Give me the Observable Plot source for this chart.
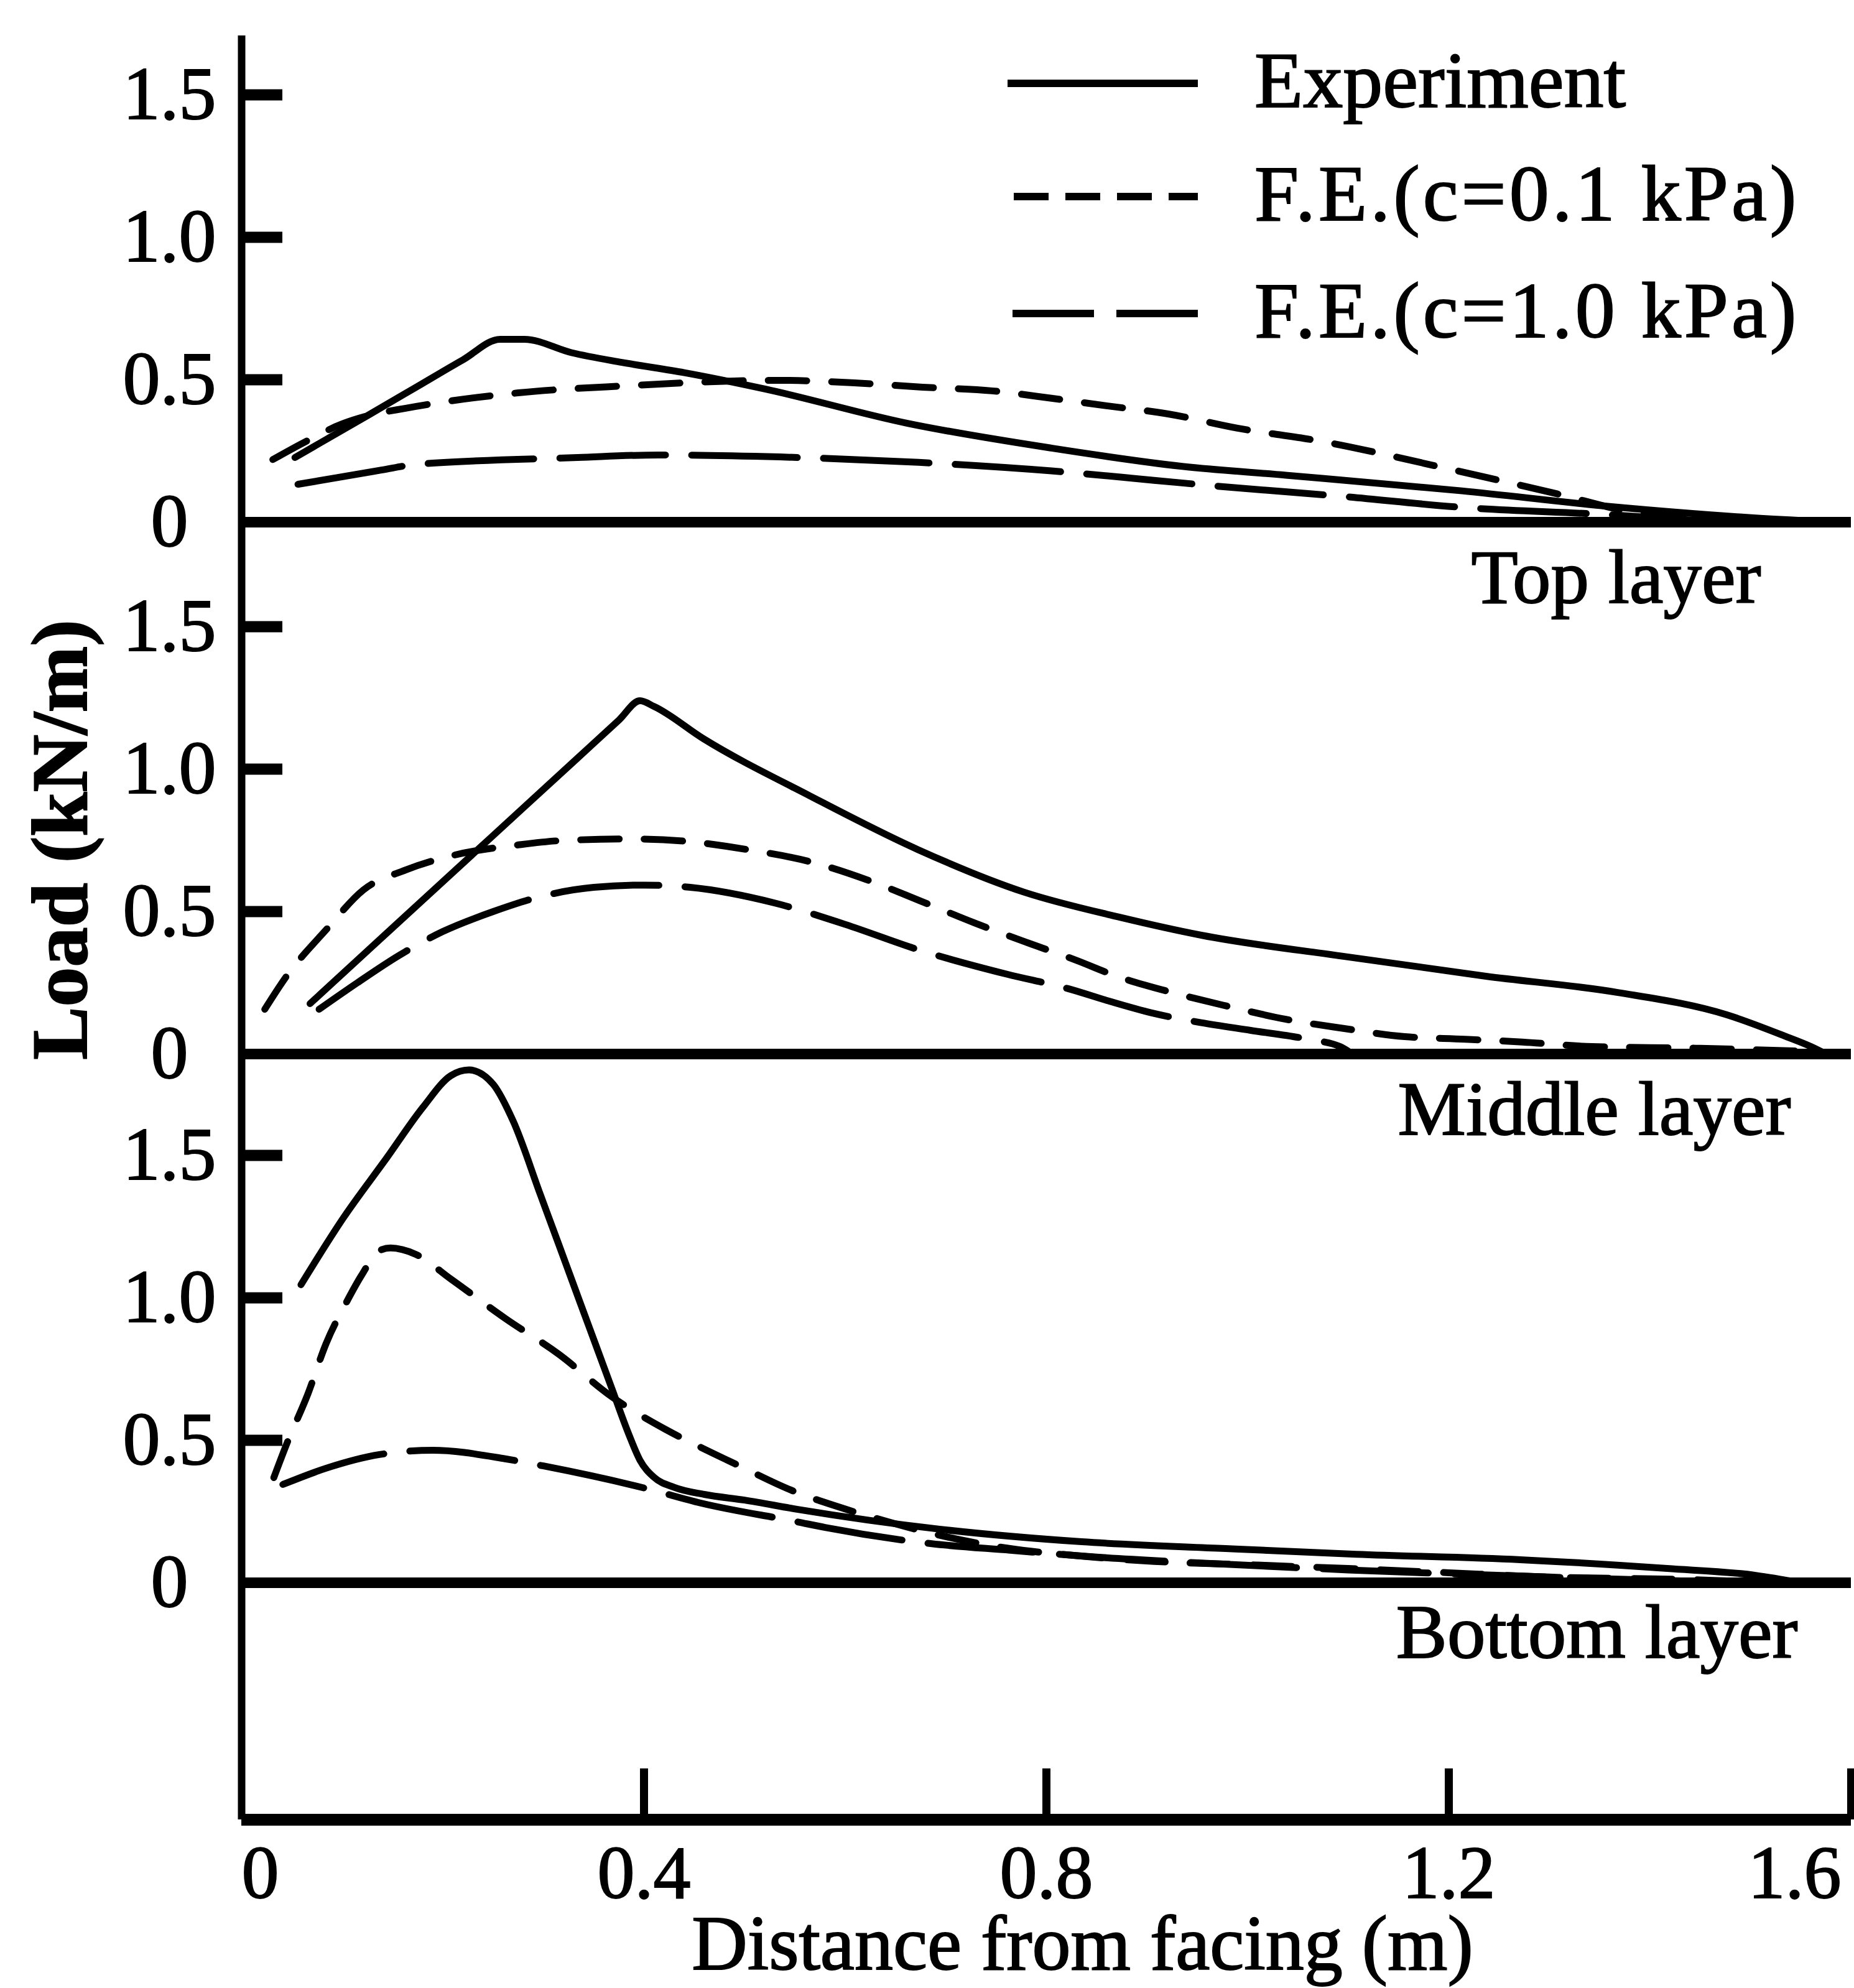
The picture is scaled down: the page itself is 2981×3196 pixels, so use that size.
<!DOCTYPE html>
<html>
<head>
<meta charset="utf-8">
<script src="https://cdn.jsdelivr.net/npm/d3@7"></script>
<script src="https://cdn.jsdelivr.net/npm/@observablehq/plot@0.6"></script>
<style>
  html, body { margin: 0; padding: 0; background: #fff; }
  #chart { position: relative; width: 2981px; height: 3196px; overflow: hidden; background: #fff;
           font-family: "Liberation Serif", "Times New Roman", serif; }
  #chart svg { display: block; overflow: visible; }
  #chart text { stroke: #000; stroke-width: 2px; }
</style>
</head>
<body>
<div id="chart"></div>
<script>
// ---------------- DATA ----------------
const layers = ["Top layer", "Middle layer", "Bottom layer"];
const seriesNames = ["Experiment", "F.E.(c=0.1 kPa)", "F.E.(c=1.0 kPa)"];
const xTickValues = [0, 0.4, 0.8, 1.2, 1.6];
const yTickValues = [0, 0.5, 1.0, 1.5];
const xTitle = "Distance from facing (m)";
const yTitle = "Load (kN/m)";

// Top layer
const topExpX  = [0.053, 0.127, 0.174, 0.22, 0.257, 0.281, 0.328, 0.378, 0.44, 0.521, 0.662, 0.805, 0.935, 1.038, 1.213, 1.36, 1.505, 1.587];
const topExpY  = [0.227, 0.378, 0.475, 0.57, 0.642, 0.642, 0.595, 0.561, 0.525, 0.467, 0.347, 0.26, 0.196, 0.165, 0.11, 0.055, 0.015, 0.0];
const topFE01X = [0.031, 0.062, 0.10, 0.127, 0.163, 0.275, 0.378, 0.535, 0.609, 0.677, 0.746, 0.805, 0.861, 0.921, 0.99, 1.073, 1.19, 1.307, 1.383, 1.45, 1.55];
const topFE01Y = [0.22, 0.28, 0.345, 0.375, 0.40, 0.454, 0.478, 0.498, 0.489, 0.474, 0.461, 0.435, 0.408, 0.38, 0.33, 0.284, 0.195, 0.10, 0.035, 0.01, 0.0];
const topFE10X = [0.056, 0.139, 0.174, 0.334, 0.414, 0.535, 0.673, 0.805, 0.907, 0.968, 1.096, 1.213, 1.36, 1.45];
const topFE10Y = [0.133, 0.183, 0.203, 0.227, 0.236, 0.229, 0.21, 0.18, 0.147, 0.127, 0.09, 0.052, 0.026, 0.005];

// Middle layer
const midExpX  = [0.068, 0.15, 0.25, 0.33, 0.375, 0.396, 0.41, 0.459, 0.565, 0.672, 0.778, 0.873, 0.954, 1.095, 1.237, 1.368, 1.476, 1.534, 1.56, 1.575];
const midExpY  = [0.177, 0.443, 0.767, 1.026, 1.172, 1.24, 1.22, 1.107, 0.906, 0.718, 0.568, 0.48, 0.417, 0.343, 0.273, 0.216, 0.138, 0.063, 0.026, 0.0];
const midFE01X = [0.023, 0.044, 0.085, 0.121, 0.163, 0.21, 0.275, 0.317, 0.388, 0.441, 0.502, 0.565, 0.622, 0.675, 0.728, 0.785, 0.829, 0.87, 0.925, 0.975, 1.038, 1.095, 1.156, 1.216, 1.273, 1.337, 1.45, 1.55];
const midFE01Y = [0.157, 0.27, 0.44, 0.576, 0.646, 0.697, 0.734, 0.749, 0.755, 0.747, 0.718, 0.675, 0.611, 0.537, 0.461, 0.386, 0.33, 0.273, 0.216, 0.172, 0.122, 0.09, 0.061, 0.052, 0.042, 0.027, 0.02, 0.01];
const midFE10X = [0.077, 0.115, 0.156, 0.20, 0.25, 0.30, 0.35, 0.40, 0.446, 0.53, 0.6, 0.672, 0.761, 0.821, 0.863, 0.904, 0.954, 1.003, 1.06, 1.092, 1.10];
const midFE10Y = [0.157, 0.25, 0.345, 0.43, 0.50, 0.555, 0.585, 0.593, 0.585, 0.53, 0.455, 0.367, 0.28, 0.23, 0.185, 0.145, 0.11, 0.083, 0.052, 0.026, 0.01];

// Bottom layer
const botExpX  = [0.059, 0.101, 0.144, 0.18, 0.208, 0.226, 0.25, 0.27, 0.297, 0.315, 0.336, 0.354, 0.368, 0.385, 0.396, 0.41, 0.43, 0.46, 0.5, 0.552, 0.694, 0.835, 0.978, 1.108, 1.271, 1.417, 1.505, 1.55];
const botExpY  = [1.046, 1.28, 1.49, 1.668, 1.78, 1.80, 1.75, 1.62, 1.362, 1.19, 0.988, 0.816, 0.682, 0.52, 0.43, 0.37, 0.335, 0.31, 0.29, 0.258, 0.188, 0.144, 0.12, 0.10, 0.081, 0.05, 0.026, 0.0];
const botFE01X = [0.032, 0.045, 0.066, 0.084, 0.105, 0.119, 0.137, 0.148, 0.173, 0.208, 0.262, 0.315, 0.368, 0.421, 0.456, 0.492, 0.549, 0.59, 0.63, 0.69, 0.764, 0.83, 0.907, 1.01, 1.1, 1.2, 1.3, 1.45, 1.52];
const botFE01Y = [0.369, 0.489, 0.664, 0.84, 0.99, 1.078, 1.166, 1.175, 1.153, 1.066, 0.928, 0.803, 0.653, 0.539, 0.476, 0.415, 0.321, 0.27, 0.227, 0.17, 0.12, 0.095, 0.075, 0.062, 0.05, 0.035, 0.02, 0.01, 0.0];
const botFE10X = [0.041, 0.084, 0.137, 0.19, 0.262, 0.30, 0.403, 0.456, 0.552, 0.58, 0.686, 0.764, 0.85, 0.95, 1.1, 1.3, 1.5];
const botFE10Y = [0.345, 0.402, 0.45, 0.465, 0.435, 0.41, 0.33, 0.28, 0.214, 0.194, 0.137, 0.114, 0.09, 0.07, 0.045, 0.02, 0.0];

// ---------------- BUILD ROWS ----------------
function rows(xs, ys) { return xs.map((x, i) => ({x, y: ys[i]})); }
const panelSeries = [
  [rows(topExpX, topExpY), rows(topFE01X, topFE01Y), rows(topFE10X, topFE10Y)],
  [rows(midExpX, midExpY), rows(midFE01X, midFE01Y), rows(midFE10X, midFE10Y)],
  [rows(botExpX, botExpY), rows(botFE01X, botFE01Y), rows(botFE10X, botFE10Y)]
];

// ---------------- LAYOUT / STYLE ----------------
const WIDTH = 2981, HEIGHT = 3196, MARGIN_LEFT = 388, MARGIN_RIGHT = 5, PX_PER_UNIT = 458;
const X_DOMAIN = [0, 1.6];
const FRAME_W = WIDTH - MARGIN_LEFT - MARGIN_RIGHT;
const Y_TICK_LEN_PX = 66;
const yTickLenData = Y_TICK_LEN_PX * (X_DOMAIN[1] - X_DOMAIN[0]) / FRAME_W;
const FONT = "Liberation Serif, Times New Roman, serif";
const fmt = d => d === 0 ? "0" : d.toFixed(1);
const panelLayout = [
  {height: 839,  marginTop: 57, marginBottom: 0,   zeroAt: 839, labelDx: -145, labelDy: 129},
  {height: 855,  marginTop: 0,  marginBottom: 0,   zeroAt: 855, labelDx: -97,  labelDy: 129},
  {height: 1502, marginTop: 0,  marginBottom: 271, zeroAt: 850, labelDx: -86,  labelDy: 120}
];
const seriesDash = [null, "62,40", "170,42"];
const curveWidth = 11;
const yTickMarkValues = yTickValues.filter(t => t > 0);

const chart = document.getElementById("chart");

panelLayout.forEach((L, i) => {
  const yDomain = [-(L.height - L.marginBottom - L.zeroAt) / PX_PER_UNIT, (L.zeroAt - L.marginTop) / PX_PER_UNIT];
  const marks = [
    Plot.ruleX([X_DOMAIN[0]], {stroke: "black", strokeWidth: 12}),
    Plot.ruleY([0], {stroke: "black", strokeWidth: 17}),
    Plot.axisY(yTickValues, {tickSize: 0, tickPadding: 116, textAnchor: "middle", tickFormat: fmt, fontSize: 120, label: null}),
    ...panelSeries[i].map((data, s) => Plot.line(data, {
      x: "x", y: "y", curve: "monotone-x", stroke: "black", strokeWidth: curveWidth,
      strokeDasharray: seriesDash[s] || undefined
    })),
    Plot.text([layers[i]], {text: d => d, y: 0, frameAnchor: "right", textAnchor: "end", lineAnchor: "bottom",
      dx: L.labelDx, dy: L.labelDy, fontSize: 123})
  ];
  if (i === 1) {
    marks.push(Plot.text([yTitle], {text: d => d, frameAnchor: "left", textAnchor: "middle", lineAnchor: "middle",
      rotate: -90, dx: -290, dy: 83, fontSize: 128, fontWeight: "bold"}));
  }
  if (i === 2) {
    marks.push(
      Plot.ruleY([yDomain[0]], {stroke: "black", strokeWidth: 19}),
      Plot.axisX(xTickValues.filter(t => t > 0), {tickSize: 82, dy: -82, strokeWidth: 13, fill: "none", label: null}),
      Plot.axisX([xTickValues[0]], {tickSize: 0, tickPadding: 40, textAnchor: "start", tickFormat: fmt, fontSize: 120, label: null}),
      Plot.axisX(xTickValues.slice(1, -1), {tickSize: 0, tickPadding: 40, textAnchor: "middle", tickFormat: fmt, fontSize: 120, label: null}),
      Plot.axisX([xTickValues[xTickValues.length - 1]], {tickSize: 0, tickPadding: 40, textAnchor: "end", dx: -16, tickFormat: fmt, fontSize: 120, label: null}),
      Plot.text([xTitle], {text: d => d, frameAnchor: "bottom", textAnchor: "middle", lineAnchor: "bottom", dx: 58, dy: 240, fontSize: 124})
    );
  }
  // inward y ticks (0.5, 1.0, 1.5) on the left axis
  marks.push(Plot.ruleY(yTickMarkValues, {y: d => d, x1: X_DOMAIN[0], x2: X_DOMAIN[0] + yTickLenData,
    stroke: "black", strokeWidth: 18}));

  const svg = Plot.plot({
    width: WIDTH, height: L.height,
    marginLeft: MARGIN_LEFT, marginRight: MARGIN_RIGHT, marginTop: L.marginTop, marginBottom: L.marginBottom,
    x: {domain: X_DOMAIN, axis: null},
    y: {domain: yDomain, axis: null},
    style: {fontFamily: FONT, fontSize: "120px", color: "black", background: "transparent", overflow: "visible"},
    marks
  });
  chart.appendChild(svg);
});

// ---------------- LEGEND (overlay, top right) ----------------
const legendLayout = {x1: [1620, 1630, 1628], x2: 1926, rowY: [134, 316, 504], textX: 2017, baselineDy: 38, fontSize: 128};
const legendDash = [null, "56,27", "131,36"];
const leg = d3.select(chart).append("svg")
  .attr("width", WIDTH).attr("height", 620)
  .style("position", "absolute").style("left", "0px").style("top", "0px");
seriesNames.forEach((name, i) => {
  leg.append("line")
    .attr("x1", legendLayout.x1[i]).attr("x2", legendLayout.x2)
    .attr("y1", legendLayout.rowY[i]).attr("y2", legendLayout.rowY[i])
    .attr("stroke", "black").attr("stroke-width", 12)
    .attr("stroke-dasharray", legendDash[i]);
  leg.append("text")
    .attr("x", legendLayout.textX).attr("y", legendLayout.rowY[i] + legendLayout.baselineDy)
    .attr("font-family", FONT).attr("font-size", legendLayout.fontSize)
    .attr("letter-spacing", i === 0 ? 0 : 5)
    .text(name);
});
</script>
</body>
</html>
